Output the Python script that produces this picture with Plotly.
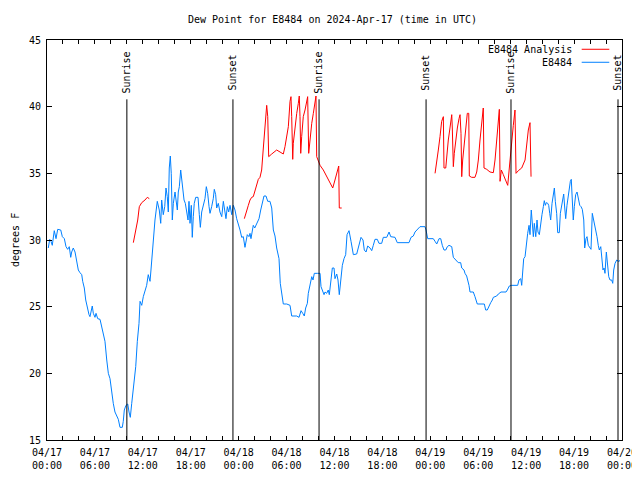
import pandas as pd
import plotly.graph_objects as go

BASE = pd.Timestamp("2024-04-17 00:00")

# E8484 observed dew point (hours since 04/17 00:00 UTC, degrees F)
obs_hours = [0.16, 0.34, 0.50, 0.66, 0.91, 1.13, 1.34, 1.72, 1.92, 2.17, 2.38, 2.59, 2.79, 2.97, 3.09, 3.29,
             3.51, 3.72, 3.92, 4.13, 4.35, 4.47, 4.67, 4.85, 5.05, 5.26, 5.38, 5.51, 5.67, 5.80, 6.01, 6.14,
             6.35, 6.64, 6.85, 7.05, 7.26, 7.48, 7.68, 7.89, 8.10, 8.30, 8.51, 8.73, 8.93, 9.14, 9.43, 9.55,
             9.68, 9.89, 10.11, 10.27, 10.43, 10.61, 10.73, 10.93, 11.11, 11.31, 11.52, 11.65, 11.86, 12.06,
             12.27, 12.48, 12.68, 12.90, 13.02, 13.19, 13.36, 13.52, 13.81, 14.06, 14.24, 14.36, 14.56, 14.74,
             14.90, 15.06, 15.19, 15.31, 15.44, 15.56, 15.69, 15.82, 16.03, 16.15, 16.32, 16.44, 16.57, 16.74,
             16.87, 16.99, 17.16, 17.32, 17.49, 17.66, 17.78, 17.91, 18.07, 18.19, 18.32, 18.44, 18.62, 18.91,
             19.07, 19.20, 19.37, 19.57, 19.78, 19.95, 20.12, 20.29, 20.41, 20.62, 20.82, 20.95, 21.12, 21.25,
             21.45, 21.66, 21.88, 22.08, 22.29, 22.41, 22.58, 22.75, 22.92, 23.13, 23.33, 23.54, 23.75, 23.95,
             24.17, 24.38, 24.58, 24.79, 24.92, 25.08, 25.29, 25.42, 25.54, 25.71, 25.83, 26.01, 26.17, 26.33,
             26.55, 26.76, 26.96, 27.17, 27.42, 27.64, 27.92, 28.14, 28.34, 28.55, 28.76, 29.05, 29.21, 29.39,
             29.59, 30.02, 30.43, 30.64, 30.93, 31.27, 31.56, 31.81, 32.02, 32.22, 32.39, 32.60, 32.72, 32.93,
             33.15, 33.31, 33.47, 33.90, 34.19, 34.31, 34.47, 34.69, 34.81, 35.02, 35.22, 35.35, 35.56, 35.73,
             35.94, 36.06, 36.28, 36.44, 36.60, 36.78, 36.98, 37.19, 37.40, 37.57, 37.82, 38.07, 38.36, 38.78,
             39.07, 39.32, 39.57, 39.73, 39.95, 40.16, 40.45, 40.66, 40.86, 41.07, 41.36, 41.57, 41.91, 42.11,
             42.54, 42.83, 43.04, 43.36, 43.58, 43.86, 45.33, 45.58, 45.87, 46.08, 46.37, 46.71, 47.33, 47.46,
             47.67, 48.37, 48.59, 48.80, 49.09, 49.30, 49.50, 49.71, 49.93, 50.13, 50.34, 50.68, 50.88, 51.22,
             51.50, 51.80, 51.93, 52.22, 52.34, 52.55, 52.68, 52.84, 52.97, 53.38, 53.59, 53.72, 53.88, 54.76,
             54.93, 55.13, 55.35, 55.56, 55.76, 55.89, 56.31, 56.51, 56.85, 57.48, 57.64, 57.89, 58.19, 58.94,
             59.10, 59.32, 59.44, 59.57, 59.69, 59.86, 60.02, 60.19, 60.36, 60.48, 60.64, 60.77, 60.90, 61.02,
             61.20, 61.36, 61.48, 61.65, 61.82, 61.98, 62.15, 62.27, 62.40, 62.52, 62.70, 62.82, 62.95, 63.07,
             63.24, 63.40, 63.53, 63.65, 63.82, 63.95, 64.15, 64.28, 64.45, 64.58, 64.70, 64.83, 64.95, 65.11,
             65.28, 65.40, 65.53, 65.65, 65.78, 65.90, 66.03, 66.20, 66.37, 66.53, 66.71, 66.87, 67.03, 67.21,
             67.33, 67.49, 67.62, 67.78, 67.96, 68.12, 68.28, 68.46, 68.62, 68.75, 68.87, 69.03, 69.16, 69.34,
             69.46, 69.62, 69.75, 69.87, 70.04, 70.16, 70.34, 70.50, 70.71, 70.84, 70.96, 71.13, 71.34, 71.54,
             71.75]
obs_values = [29.4, 30.05, 29.9, 29.6, 30.7, 30.1, 30.8, 30.75, 30.25, 30.1, 29.5, 29.3, 29.5, 28.7, 29.1, 29.4,
              29.1, 28.4, 27.75, 27.55, 27.4, 26.9, 26.4, 25.5, 24.9, 24.4, 24.25, 24.75, 25.05, 24.5, 24.2, 24.5,
              24.1, 24.05, 23.4, 22.9, 22.4, 21.0, 20.0, 19.6, 18.4, 17.75, 17.1, 16.75, 16.55, 15.95, 15.95, 16.4,
              17.25, 17.6, 17.7, 17.1, 16.7, 17.75, 18.5, 19.75, 20.5, 22.4, 23.75, 25.4, 25.1, 25.75,
              26.25, 26.6, 27.4, 26.9, 27.75, 29.0, 30.5, 31.5, 32.9, 32.25, 31.25, 33.0, 31.9, 32.5,
              33.9, 33.25, 32.1, 35.4, 36.3, 35.0, 31.5, 32.75, 33.6, 33.1, 32.25, 33.6, 34.0, 35.25,
              34.5, 33.6, 33.0, 32.75, 32.1, 31.5, 32.9, 31.25, 32.6, 30.2, 31.75, 32.75, 33.2, 33.2,
              31.9, 30.95, 32.1, 32.6, 33.1, 34.0, 33.5, 32.5, 32.0, 32.5, 33.1, 33.8, 33.4, 32.4,
              32.75, 32.1, 31.75, 32.9, 32.25, 31.6, 32.5, 32.1, 32.6, 31.9, 32.6, 32.25, 31.6, 31.25,
              30.75, 30.2, 30.25, 29.45, 29.9, 30.4, 30.25, 30.5, 30.1, 30.55, 31.1, 30.9, 31.1, 31.25,
              31.6, 32.25, 32.9, 33.3, 33.3, 32.9, 32.9, 32.4, 30.75, 30.3, 29.4, 28.6, 26.75, 25.9,
              25.2, 25.2, 25.1, 24.3, 24.3, 24.3, 24.2, 24.7, 24.5, 24.3, 24.9, 25.25, 26.0, 26.5,
              27.25, 27.0, 27.5, 27.5, 27.5, 26.5, 26.25, 25.9, 26.1, 26.0, 26.25, 25.9, 27.0, 27.9,
              27.9, 27.1, 27.45, 27.0, 25.9, 27.25, 28.1, 28.6, 28.9, 30.4, 30.7, 29.9, 28.9, 28.95,
              29.6, 30.2, 30.0, 29.25, 29.1, 29.55, 29.4, 29.2, 29.6, 30.05, 30.05, 29.75, 29.75, 30.2,
              30.2, 30.6, 30.25, 30.2, 30.2, 29.8, 29.8, 30.2, 30.3, 30.6, 30.8, 31.0, 31.0, 30.75,
              30.1, 30.1, 29.9, 29.7, 30.1, 30.1, 29.6, 29.25, 29.25, 29.5, 29.6, 29.5, 28.7, 28.45,
              28.3, 28.3, 27.9, 27.75, 27.5, 27.3, 27.0, 26.6, 26.1, 26.1, 25.75, 25.55, 25.2, 25.2,
              24.75, 24.75, 25.1, 25.3, 25.5, 25.7, 25.8, 25.95, 26.1, 26.1, 26.25, 26.55, 26.6, 26.6,
              27.0, 27.1, 26.6, 27.9, 28.6, 28.75, 29.9, 30.5, 31.1, 30.4, 32.25, 30.75, 30.25, 31.25,
              30.25, 31.5, 30.6, 30.4, 31.4, 31.9, 32.5, 32.95, 32.6, 32.8, 32.75, 32.6, 32.0, 31.5,
              32.75, 33.4, 33.9, 32.9, 32.0, 30.55, 30.55, 32.0, 32.6, 33.0, 33.45, 32.4, 31.6, 32.6,
              33.4, 34.1, 34.4, 34.55, 33.25, 31.5, 32.5, 33.4, 33.6, 33.05, 32.6, 32.5, 32.3, 31.5,
              29.4, 30.1, 30.25, 29.6, 29.45, 29.3, 32.0, 31.5, 30.9, 30.6, 30.25, 29.6, 29.25, 29.5,
              28.4, 27.75, 27.9, 27.5, 29.1, 28.1, 27.25, 27.0, 27.0, 26.75, 27.75, 28.25, 28.5, 28.4,
              28.45]

# E8484 Analysis (three separate runs)
ana1_hours = [10.81, 11.02, 11.23, 11.36, 11.56, 11.86, 12.27, 12.56, 12.81]
ana1_values = [29.8, 30.4, 31.1, 31.5, 32.5, 32.8, 33.0, 33.2, 33.1]
ana2_hours = [24.71, 25.01, 25.21, 25.42, 25.63, 25.83, 26.05, 26.26, 26.46, 26.67, 26.88, 27.09, 27.30, 27.51,
              27.64, 27.76, 28.14, 28.76, 29.18, 29.59, 29.80, 30.02, 30.22, 30.43, 30.55, 30.64, 30.77, 30.84,
              31.05, 31.27, 31.47, 31.59, 31.68, 31.77, 31.89, 32.09, 32.31, 32.52, 32.64, 32.77, 32.93, 33.15,
              33.35, 33.56, 33.68, 33.77, 33.97, 34.19, 34.60, 35.02, 35.44, 35.78, 36.06, 36.35, 36.53, 36.60,
              36.90]
ana2_values = [31.6, 32.1, 32.6, 33.0, 33.2, 33.25, 33.75, 34.25, 34.55, 34.7, 35.25, 36.9, 38.75, 40.1,
               39.25, 36.25, 36.45, 36.75, 36.6, 36.45, 37.0, 38.0, 38.5, 40.4, 40.75, 39.25, 36.05, 37.25,
               38.5, 39.5, 40.25, 40.8, 39.25, 36.5, 37.75, 39.25, 39.75, 40.5, 40.75, 36.5, 37.5, 38.75,
               39.5, 40.25, 40.8, 36.25, 35.9, 35.6, 35.25, 34.75, 34.2, 33.9, 34.5, 35.25, 35.55, 32.4,
               32.4]
ana3_hours = [48.59, 48.80, 49.00, 49.21, 49.42, 49.63, 49.71, 49.93, 50.05, 50.25, 50.46, 50.68, 50.75, 50.88,
              51.00, 51.18, 51.38, 51.59, 51.72, 51.84, 51.93, 52.05, 52.22, 52.43, 52.63, 52.81, 52.88, 53.18,
              53.59, 53.81, 54.01, 54.22, 54.43, 54.63, 54.72, 55.06, 55.47, 55.89, 56.10, 56.31, 56.51, 56.64,
              56.73, 56.89, 57.14, 57.44, 57.69, 57.89, 57.98, 58.19, 58.39, 58.60, 58.73, 59.02, 59.44, 59.86,
              60.07, 60.27, 60.48, 60.61]
ana3_values = [35.0, 35.75, 36.75, 37.75, 38.9, 39.25, 35.4, 35.4, 36.4, 37.5, 38.4, 39.4, 38.4, 35.5,
               36.5, 37.5, 38.4, 39.1, 39.4, 38.0, 34.75, 36.0, 37.0, 38.25, 39.5, 39.5, 34.8, 34.7,
               34.7, 35.1, 36.0, 37.5, 38.9, 39.9, 35.4, 35.3, 35.1, 35.05, 36.0, 37.5, 39.0, 39.8,
               34.4, 35.25, 34.9, 34.5, 34.1, 35.4, 36.1, 37.25, 38.6, 39.75, 35.0, 35.2, 35.4, 36.0,
               37.0, 38.25, 38.8, 34.75]

sun_labels = ["Sunrise", "Sunset", "Sunrise", "Sunset", "Sunrise", "Sunset"]
sun_times = ["2024-04-17 10:00", "2024-04-17 23:17", "2024-04-18 10:04",
             "2024-04-18 23:28", "2024-04-19 10:06", "2024-04-19 23:30"]

y_ticks = [15, 20, 25, 30, 35, 40, 45]
tick_times = pd.date_range("2024-04-17 00:00", "2024-04-20 00:00", freq="2h")

def to_time(hours):
    return [BASE + pd.Timedelta(hours=h) for h in hours]

FONT = "DejaVu Sans Mono"
BLUE = "#0080ff"
RED = "#ff0000"

ana_x, ana_y = [], []
for hs, vs in [(ana1_hours, ana1_values), (ana2_hours, ana2_values), (ana3_hours, ana3_values)]:
    ana_x += to_time(hs) + [None]
    ana_y += vs + [None]

fig = go.Figure()
fig.add_trace(go.Scatter(x=ana_x, y=ana_y, mode="lines", line=dict(color=RED, width=1),
                         name="E8484 Analysis", connectgaps=False, showlegend=False))
fig.add_trace(go.Scatter(x=to_time(obs_hours), y=obs_values, mode="lines",
                         line=dict(color=BLUE, width=1), name="E8484", showlegend=False))

for lab, t in zip(sun_labels, sun_times):
    fig.add_shape(type="line", xref="x", yref="y", x0=t, x1=t, y0=15, y1=40.55,
                  line=dict(color="black", width=1), layer="above")
    fig.add_annotation(x=t, y=42.55, xref="x", yref="y", text=lab, textangle=-90,
                       showarrow=False, font=dict(family=FONT, size=10, color="black"))

# legend (gnuplot style: text then line sample)
for name, col, yp in [("E8484 Analysis", RED, 0.9768), ("E8484", BLUE, 0.9443)]:
    fig.add_annotation(x=0.9165, y=yp, xref="paper", yref="paper", text=name, xanchor="right",
                       yanchor="middle", showarrow=False,
                       font=dict(family=FONT, size=10, color="black"))
    fig.add_shape(type="line", xref="paper", yref="paper", x0=0.9299, x1=0.9779, y0=yp, y1=yp,
                  line=dict(color=col, width=1))

tick_text = [t.strftime("%m/%d<br>%H:%M") if t.hour % 6 == 0 else "" for t in tick_times]

# page body adds an 8px offset, so the figure is sized to 632x472
fig.update_layout(
    width=632, height=472,
    margin=dict(l=39, r=18, t=32, b=40, autoexpand=False),
    paper_bgcolor="white", plot_bgcolor="white",
    font=dict(family=FONT, size=10, color="black"),
    showlegend=False,
    annotations=list(fig.layout.annotations) + [
        dict(text="Dew Point for E8484 on 2024-Apr-17 (time in UTC)", x=0.4965, y=1 + 20 / 400,
             xref="paper", yref="paper", showarrow=False, yanchor="middle", xanchor="center",
             font=dict(family=FONT, size=10, color="black")),
        dict(text="degrees F", x=-32 / 575, y=0.5, xref="paper", yref="paper", textangle=-90,
             xanchor="center", yanchor="middle",
             showarrow=False, font=dict(family=FONT, size=10, color="black")),
    ],
)
fig.update_xaxes(range=[BASE, BASE + pd.Timedelta(hours=72)], tickmode="array",
                 tickvals=list(tick_times), ticktext=tick_text, ticks="inside", ticklen=4,
                 tickcolor="black", showline=True, linecolor="black", linewidth=1, mirror="allticks",
                 showgrid=False, zeroline=False, tickfont=dict(family=FONT, size=10), automargin=False,
                 ticklabelstandoff=3)
fig.update_yaxes(range=[15, 45], tickvals=y_ticks, ticks="inside", ticklen=5, tickcolor="black",
                 showline=True, linecolor="black", linewidth=1, mirror="allticks", showgrid=False,
                 zeroline=False, tickfont=dict(family=FONT, size=10), automargin=False,
                 ticklabelstandoff=3)

fig.write_html("out.html")
